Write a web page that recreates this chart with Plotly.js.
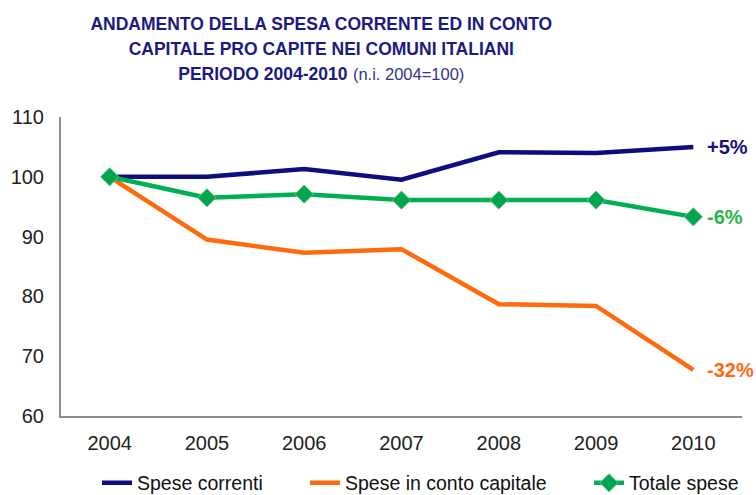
<!DOCTYPE html>
<html>
<head>
<meta charset="utf-8">
<script src="https://cdn.plot.ly/plotly-3.0.1.min.js"></script>
<style>html,body{margin:0;padding:0;background:#fff;}#chart{width:756px;height:495px;}</style>
</head>
<body>
<div id="chart"></div>
<script>
const years = ['2004','2005','2006','2007','2008','2009','2010'];
const speseCorrenti = [100, 100, 101.3, 99.5, 104.1, 104.0, 105.0];
const speseCapitale = [100, 89.5, 87.3, 87.9, 78.7, 78.4, 67.7];
const totaleSpese = [100, 96.5, 97.1, 96.1, 96.1, 96.1, 93.3];
const seriesNames = ['Spese correnti', 'Spese in conto capitale', 'Totale spese'];
const changeLabels = ['+5%', '-32%', '-6%'];
const colors = ['#0d0d80', '#ff6a0d', '#00b050'];
const labelColors = ['#14147a', '#ff6a13', '#2db34a'];

const font = 'Liberation Sans, Arial, sans-serif';
const allSeries = [speseCorrenti, speseCapitale, totaleSpese];
const legendIds = ['legend', 'legend2', 'legend3'];
const legendX = [0.1283, 0.4034, 0.7791];

const traces = [
  {x: years, y: speseCorrenti, name: seriesNames[0], type: 'scatter', mode: 'lines',
   line: {color: colors[0], width: 4.5}, cliponaxis: false, legend: legendIds[0]},
  {x: years, y: speseCapitale, name: seriesNames[1], type: 'scatter', mode: 'lines',
   line: {color: colors[1], width: 4.5}, cliponaxis: false, legend: legendIds[1]},
  {x: years, y: totaleSpese, name: seriesNames[2], type: 'scatter', mode: 'lines+markers',
   line: {color: colors[2], width: 4.5}, cliponaxis: false, legend: legendIds[2],
   marker: {symbol: 'diamond', size: 14, color: '#00a550', line: {color: '#6fc08a', width: 1}}}
];

const annotations = allSeries.map((arr, i) => ({
  x: years.length - 1, y: arr[arr.length - 1], xref: 'x', yref: 'y',
  text: '<b>' + changeLabels[i] + '</b>',
  showarrow: false, xanchor: 'left', yanchor: 'middle', xshift: 12,
  font: {family: font, size: 20, color: labelColors[i]}
}));

function legendAt(x) {
  return {
    orientation: 'h', xref: 'container', x: x, xanchor: 'left',
    yref: 'container', y: 0.0635, yanchor: 'top',
    bgcolor: 'rgba(0,0,0,0)',
    font: {family: font, size: 19.5, color: '#111'}
  };
}

const layout = {
  width: 756, height: 495,
  margin: {l: 61, r: 14, t: 117, b: 79, autoexpand: false},
  paper_bgcolor: '#fff', plot_bgcolor: '#fff',
  title: {
    text: '<span style="font-size:17.5px"><b>ANDAMENTO DELLA SPESA CORRENTE ED IN CONTO</b></span><br>' +
          '<span style="font-size:17.5px"><b>CAPITALE PRO CAPITE NEI COMUNI ITALIANI</b></span><br>' +
          '<span style="font-size:17.5px"><b>PERIODO 2004-2010</b></span> <span style="font-size:16.5px;color:#34348a">(n.i. 2004=100)</span>',
    font: {family: font, size: 19.5, color: '#1a1a80'},
    xref: 'container', x: 0.425, xanchor: 'center',
    yref: 'container', y: 0.94, yanchor: 'top'
  },
  showlegend: true,
  legend: legendAt(legendX[0]),
  legend2: legendAt(legendX[1]),
  legend3: legendAt(legendX[2]),
  xaxis: {
    type: 'category', range: [-0.5, 6.5],
    showline: true, linecolor: '#8c8c8c', linewidth: 2,
    showgrid: false, zeroline: false,
    ticks: 'outside', ticklen: 8, tickcolor: 'rgba(0,0,0,0)',
    tickfont: {family: font, size: 20, color: '#222'}
  },
  yaxis: {
    range: [60, 110], dtick: 10, tick0: 60,
    showline: true, linecolor: '#8c8c8c', linewidth: 2,
    showgrid: false, zeroline: false,
    ticks: 'outside', ticklen: 11, tickcolor: 'rgba(0,0,0,0)',
    tickfont: {family: font, size: 20, color: '#222'}
  },
  annotations: annotations
};

Plotly.newPlot('chart', traces, layout, {displayModeBar: false, staticPlot: true});
</script>
</body>
</html>
